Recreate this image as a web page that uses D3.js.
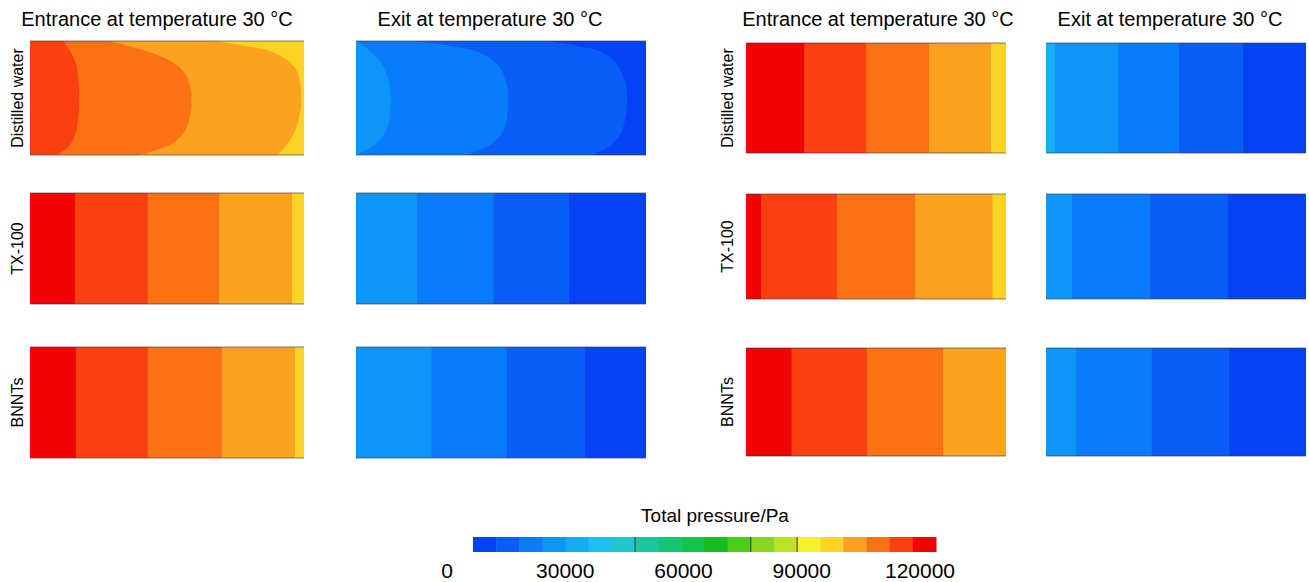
<!DOCTYPE html>
<html>
<head>
<meta charset="utf-8">
<script src="https://cdn.jsdelivr.net/npm/d3@7"></script>
<style>
body{margin:0;background:#fff;}
text{font-family:"Liberation Sans",Arial,sans-serif;fill:#000;}
</style>
</head>
<body>
<script>
//DATA
var columnTitles=["Entrance at temperature 30 °C","Exit at temperature 30 °C","Entrance at temperature 30 °C","Exit at temperature 30 °C"];
var rowLabels=["Distilled water","TX-100","BNNTs"];
// colour levels of the legend, 0 -> 120000 Pa in 20 steps
var levelColors=["#0642f5","#0a5ef8","#0a7cfb","#0c96f8","#14acf4","#1cc2ee","#1ec8cc","#18c89c","#12c674","#10c44c",
                 "#14c020","#4ccc14","#88d620","#b8e424","#f4f02c","#fad424","#fba21e","#fb7214","#fb4010","#f20404"];
var tickValues=[0,30000,60000,90000,120000];
var separatorValues=[42000,72000,84000];
// relative heights where contour boundaries are read (top -> bottom)
var yStops=[0,0.1,0.3,0.5,0.7,0.9,1];

// pressure of each band, left to right, panels row by row
var panelPressures=[
  [111000,105000,99000,93000],
  [21000,15000,9000,3000],
  [117000,111000,105000,99000,93000],
  [27000,21000,15000,9000,3000],
  [117000,111000,105000,99000,93000],
  [21000,15000,9000,3000],
  [117000,111000,105000,99000,93000],
  [21000,15000,9000,3000],
  [117000,111000,105000,99000,93000],
  [21000,15000,9000,3000],
  [117000,111000,105000,99000],
  [21000,15000,9000,3000]
];
// contour boundaries along the channel (fraction of length); curved ones read at yStops
var panelBoundaries=[
  [[0.12,0.15,0.175,0.18,0.175,0.15,0.10],[0.29,0.44,0.57,0.59,0.58,0.52,0.40],[0.67,0.89,0.98,0.99,0.98,0.94,0.905]],
  [[0,0.055,0.107,0.12,0.114,0.07,0],[0.21,0.425,0.51,0.525,0.52,0.47,0.38],[0.66,0.85,0.92,0.935,0.927,0.886,0.817]],
  [0.224,0.462,0.704,0.942],
  [0.035,0.277,0.512,0.758],
  [0.164,0.43,0.69,0.956],
  [0.21,0.474,0.735],
  [0.058,0.35,0.65,0.948],
  [0.10,0.40,0.70],
  [0.168,0.43,0.70,0.967],
  [0.26,0.52,0.79],
  [0.175,0.465,0.758],
  [0.116,0.407,0.705]
];

//SVG
var width=1309, height=582;
var svg=d3.select("body").append("svg").attr("width",width).attr("height",height);

//LAYOUT
var colX=[[30,304],[356,646],[746,1006],[1046,1306]];
var rowYLeft=[[41,155],[193,304],[347,458]];
var rowYRight=[[43,153],[194,299],[348,456]];
var headerX=[157,490,878,1170];
var labelX=[23,733];

var color=d3.scaleQuantize().domain([0,120000]).range(levelColors);

//HEADERS
svg.append("g").selectAll("text")
  .data(columnTitles)
  .enter().append("text")
  .attr("x",function(d,i){return headerX[i];})
  .attr("y",26)
  .attr("text-anchor","middle")
  .style("font-size","20px")
  .text(function(d){return d;});

//ROW LABELS
[0,1].forEach(function(side){
  var rowY= side==0 ? rowYLeft : rowYRight;
  svg.append("g").selectAll("text")
    .data(rowLabels)
    .enter().append("text")
    .attr("transform",function(d,i){return "translate("+labelX[side]+","+((rowY[i][0]+rowY[i][1])/2)+") rotate(-90)";})
    .attr("text-anchor","middle")
    .style("font-size","16px")
    .text(function(d){return d;});
});

//PANELS
var panels=svg.append("g").attr("id","panels");
panelPressures.forEach(function(pressures,p){
  var r=Math.floor(p/4), c=p%4;
  var rowY= c<2 ? rowYLeft[r] : rowYRight[r];
  var x=d3.scaleLinear().domain([0,1]).range(colX[c]);
  var y=d3.scaleLinear().domain([0,1]).range(rowY);
  var g=panels.append("g");

  // last band fills the whole panel, earlier bands drawn on top from the right
  g.append("rect")
    .attr("x",x(0)).attr("y",y(0))
    .attr("width",x(1)-x(0)).attr("height",y(1)-y(0))
    .attr("fill",color(pressures[pressures.length-1]));

  var bounds=panelBoundaries[p].map(function(b){
    return Array.isArray(b) ? b : yStops.map(function(){return b;});
  });
  var area=d3.area()
    .curve(d3.curveMonotoneY)
    .y(function(d,i){return y(yStops[i]);})
    .x0(x(0))
    .x1(function(d){return x(d);});
  for(var k=bounds.length-1;k>=0;k--){
    g.append("path")
      .attr("d",area(bounds[k]))
      .attr("fill",color(pressures[k]));
  }
  // wall lines
  g.selectAll("line")
    .data([0,1])
    .enter().append("line")
    .attr("x1",x(0)).attr("x2",x(1))
    .attr("y1",function(d){return y(d);}).attr("y2",function(d){return y(d);})
    .attr("stroke","#333")
    .attr("stroke-opacity",0.6)
    .attr("stroke-width",1);
});

//COLOR BAR
var barX=d3.scaleLinear().domain([0,120000]).range([473,936]);
var tickX=d3.scaleLinear().domain([0,120000]).range([447,920]);
var barTop=537, barH=15;
var bar=svg.append("g").attr("id","colorbar");

bar.append("text")
  .attr("x",715).attr("y",522)
  .attr("text-anchor","middle")
  .style("font-size","19px")
  .text("Total pressure/Pa");

var step=120000/levelColors.length;
bar.selectAll("rect")
  .data(levelColors)
  .enter().append("rect")
  .attr("x",function(d,i){return barX(i*step);})
  .attr("y",barTop)
  .attr("width",function(d,i){return barX((i+1)*step)-barX(i*step)+0.5;})
  .attr("height",barH)
  .attr("fill",function(d){return d;});

bar.selectAll("line.sep")
  .data(separatorValues)
  .enter().append("line")
  .attr("class","sep")
  .attr("x1",function(d){return barX(d);}).attr("x2",function(d){return barX(d);})
  .attr("y1",barTop).attr("y2",barTop+barH)
  .attr("stroke","#333").attr("stroke-width",1);

bar.selectAll("text.tick")
  .data(tickValues)
  .enter().append("text")
  .attr("class","tick")
  .attr("x",function(d){return tickX(d);})
  .attr("y",578)
  .attr("text-anchor","middle")
  .style("font-size","21px")
  .text(function(d){return d;});
</script>
</body>
</html>
